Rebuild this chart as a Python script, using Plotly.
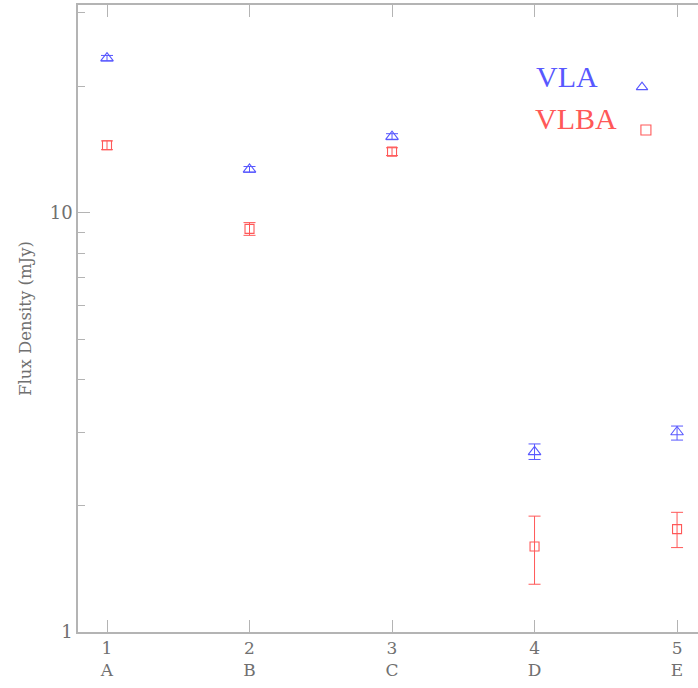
import plotly.graph_objects as go

# Data
positions = [1, 2, 3, 4, 5]
letters = ["A", "B", "C", "D", "E"]

vla_flux = [23.4, 12.7, 15.2, 2.69, 3.00]
vla_err_plus = [0.35, 0.2, 0.25, 0.12, 0.10]
vla_err_minus = [0.35, 0.2, 0.25, 0.11, 0.13]

vlba_flux = [14.5, 9.16, 14.0, 1.60, 1.76]
vlba_err_plus = [0.35, 0.32, 0.3, 0.29, 0.17]
vlba_err_minus = [0.35, 0.32, 0.3, 0.30, 0.17]

series_names = ["VLA", "VLBA"]

BLUE = "#5858ff"
RED = "#ff5858"
AXC = "#b4b4b4"
TXT = "#707070"
TFONT = "DejaVu Serif"

fig = go.Figure()

fig.add_trace(go.Scatter(
    x=positions, y=vla_flux, mode="markers", name=series_names[0],
    marker=dict(symbol="triangle-up-open", size=11, color=BLUE, line=dict(width=1.1, color=BLUE)),
    error_y=dict(type="data", array=vla_err_plus, arrayminus=vla_err_minus,
                 color=BLUE, thickness=1, width=6),
    showlegend=False,
))
fig.add_trace(go.Scatter(
    x=positions, y=vlba_flux, mode="markers", name=series_names[1],
    marker=dict(symbol="square-open", size=9, color=RED, line=dict(width=1.1, color=RED)),
    error_y=dict(type="data", array=vlba_err_plus, arrayminus=vlba_err_minus,
                 color=RED, thickness=1, width=6),
    showlegend=False,
))

# Legend key markers (on an overlay axis spanning the plot area)
fig.add_trace(go.Scatter(
    x=[0.9097], y=[0.869], mode="markers", xaxis="x2", yaxis="y2",
    marker=dict(symbol="triangle-up-open", size=10, color=BLUE, line=dict(width=1.1, color=BLUE)),
    showlegend=False, hoverinfo="skip",
))
fig.add_trace(go.Scatter(
    x=[0.916], y=[0.8006], mode="markers", xaxis="x2", yaxis="y2",
    marker=dict(symbol="square-open", size=10, color=RED, line=dict(width=1.1, color=RED)),
    showlegend=False, hoverinfo="skip",
))

fig.add_annotation(text=series_names[0], xref="paper", yref="paper", x=0.735, y=0.886,
                   xanchor="left", yanchor="middle", showarrow=False,
                   font=dict(family="Liberation Serif", size=30, color=BLUE))
fig.add_annotation(text=series_names[1], xref="paper", yref="paper", x=0.734, y=0.819,
                   xanchor="left", yanchor="middle", showarrow=False,
                   font=dict(family="Liberation Serif", size=30, color=RED))

fig.update_layout(
    width=698, height=688,
    margin=dict(l=78, r=0, t=5, b=56),
    paper_bgcolor="white", plot_bgcolor="white",
    font=dict(family=TFONT, color=TXT),
    xaxis=dict(
        range=[0.7965, 5.147],
        tickmode="array", tickvals=positions,
        ticktext=[f"{p}<br>{l}" for p, l in zip(positions, letters)],
        ticks="inside", ticklen=12, tickcolor=AXC, tickwidth=1,
        showline=True, linecolor=AXC, linewidth=1.5, mirror="ticks",
        showgrid=False, zeroline=False,
        tickfont=dict(family=TFONT, size=17, color=TXT),
    ),
    yaxis=dict(
        type="log", range=[0, 1.496],
        tickmode="array", tickvals=[1, 10], ticktext=["1", "10"],
        ticks="inside", ticklen=12, tickcolor=AXC, tickwidth=1,
        minor=dict(tickmode="array", tickvals=[2, 3, 4, 5, 6, 7, 8, 9, 20, 30],
                   ticks="inside", ticklen=7, tickcolor=AXC, tickwidth=1, showgrid=False),
        showline=True, linecolor=AXC, linewidth=1.5, mirror=False,
        showgrid=False, zeroline=False,
        tickfont=dict(family=TFONT, size=18, color=TXT),
        title=dict(text="Flux Density (mJy)", standoff=14,
                   font=dict(family=TFONT, size=16.5, color=TXT)),
    ),
    xaxis2=dict(range=[0, 1], overlaying="x", visible=False, fixedrange=True),
    yaxis2=dict(range=[0, 1], overlaying="y", visible=False, fixedrange=True),
)

fig.write_html("out.html")
